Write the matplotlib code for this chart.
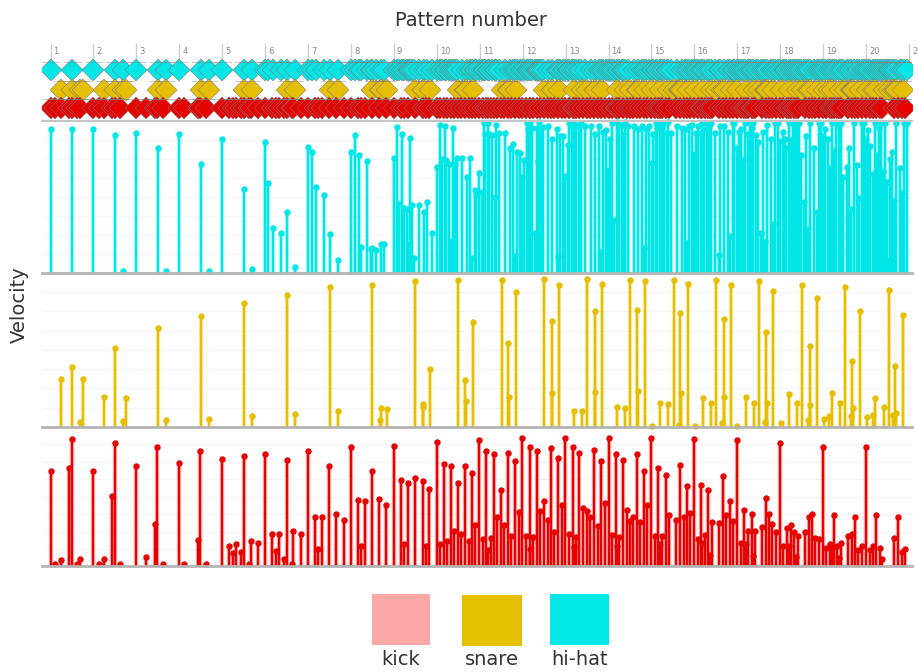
import matplotlib
matplotlib.use("Agg")
import matplotlib.pyplot as plt
from matplotlib.patches import Rectangle
import numpy as np

plt.rcParams['font.family'] = ['DejaVu Sans']

# ---------------- data (positions in 16th-note steps from pattern 1, velocities 0-127) ----------------
patterns = list(range(1, 22))
instruments = ["kick", "snare", "hi-hat"]

hh_step = [0, 8, 16, 24, 27, 32, 40, 43, 48, 56, 59, 64, 72, 75, 80, 81, 83, 86, 88, 91, 96, 97.4, 99, 102, 104, 107,
           112, 113.5, 115, 115.7, 118, 119.5, 120, 121.4, 123, 124.4,
           128, 129.3, 130, 131, 131.8, 132.8, 133.5, 134, 134.7, 135.5, 137.3, 139.1, 140.3, 142.2, 144.1, 145.3,
           146, 147.1, 147.4, 148.6, 149.4, 150.1, 150.7, 151.4, 153.4, 155.1, 156.4, 157.1, 158.1, 158.6, 159.8,
           160.9, 161.4, 162.1, 163.2, 163.6, 164.6, 165.5, 166.2, 167.3, 169.3, 171.1, 172.3, 173, 173.9, 175,
           175.9, 176.6, 177.5, 178.1, 178.8, 179.6, 180.5, 181.2, 181.7, 182, 182.9, 183.7, 185.3, 187.1, 188.6,
           189.2, 189.9, 191.1, 191.9, 192.7, 193.4, 194.2, 195.2, 195.9, 196.9, 197.9, 199.3, 201.4, 203.1, 204.4,
           205.2, 206.1, 207, 207.8, 208.7, 209.4, 210.1, 211.1, 211.9, 212.9, 213.5, 214.2, 215.2, 217.3, 219.1,
           220.4, 221.2, 222, 223.2, 224.1, 224.7, 225.6, 226.2, 227, 227.8, 228.8, 229.7, 230.3, 231.4, 233.4,
           235.2, 236.5, 237.4, 238.1, 239.1, 240, 240.7, 241.5, 242.4, 243, 243.7, 244.6, 245.3, 246.1, 247.5,
           249.1, 249.6, 251.2, 252.6, 253.3, 254.2, 254.9, 255.8, 256.5, 257.3, 258.1, 259, 259.9, 260.7, 261.5,
           262, 263, 263.7, 264.7, 265.5, 266.2, 267.1, 268.4, 269.2, 269.9, 271.1, 271.9, 272.9, 273.7, 274.2,
           275.2, 275.9, 276.6, 277.5, 278.1, 278.9, 279.6, 280.9, 281.6, 282.4, 283.2, 284.5, 285.6, 286.3, 287.2,
           288.1, 288.8, 289.7, 290.6, 291.4, 292.2, 292.9, 293.8, 294.8, 295.5, 296.9, 297.5, 298.3, 299.4, 300.5,
           301.4, 302.5, 303.4, 304.1, 304.7, 305.5, 306.5, 307.3, 308.2, 308.9, 309.7, 310.4, 311.2, 311.9, 312.4,
           312.9, 313.7, 314.4, 315.2, 316.7, 317.4, 318.1, 319.1]
hh_vel = [121, 121, 121, 116, 2, 118, 105, 2, 117, 92, 2, 113, 71, 3, 110, 76, 38, 34, 51, 5, 106, 102, 72, 66, 33, 11,
          102, 116, 99, 22, 94, 20, 21, 19, 24, 24,
          97, 123, 58, 117, 55, 54, 24, 114, 57, 13, 57, 51, 60, 34, 89, 125,
          96, 124, 95, 92, 27, 122, 92, 97, 97, 81, 97, 13, 70, 66, 84,
          68, 126, 117, 126, 117, 116, 64, 125, 118, 118, 105, 109, 14, 102, 101,
          81, 95, 126, 121, 126, 122, 34, 122, 94, 127, 122, 123, 124, 113, 121,
          14, 115, 115, 82, 108, 126, 124, 126, 124, 125, 126, 124, 124, 117, 124,
          18, 119, 120, 87, 113, 126, 45, 127, 125, 125, 116, 127, 124, 124, 121,
          124, 21, 121, 124, 93, 117, 126, 122, 126, 122, 126, 118, 127, 118, 124,
          122, 121, 25, 124, 125, 100, 118, 124, 118, 126, 121, 126, 124, 126, 118,
          15, 124, 124, 119, 31, 126, 126, 105, 119, 121, 95, 126, 117, 126, 122,
          126, 116, 110, 34, 119, 26, 125, 113, 41, 126, 126, 111, 119, 113, 105,
          126, 112, 126, 121, 125, 126, 99, 60, 115, 37, 126, 105, 51, 126, 126,
          115, 121, 113, 88, 126, 103, 126, 124, 126, 81, 89, 105, 54, 126, 91,
          63, 126, 126, 113, 120, 107, 83, 126, 99, 122, 126, 86, 126, 77, 11,
          96, 102, 61, 126, 88, 67, 126, 126]

sn_step = [4, 8, 11, 12, 20, 24, 27, 28, 40, 43, 56, 59, 72, 75, 88, 91, 104, 107, 120, 122.7, 123, 125.3, 136,
           138.7, 139, 141.4, 152, 154.5, 155, 157.4,
           168.3, 170.6, 171, 173.5, 183.9, 186.8, 187, 189.5, 195, 198.1, 200, 202.8, 203, 205.4, 211.1, 214.1,
           216.1, 218.7, 219, 221.5, 224.2, 227.2, 230.3, 232.3, 234.1, 234.6, 234.9, 237.6, 240.3, 243.1, 246.1,
           248, 250.2, 250.9, 251.1, 253.5, 256, 259.1, 262.1, 264.1, 266.2, 266.8, 267, 269.4, 272.2, 275.2,
           278.2, 280.2, 282.3, 283, 283.2, 285.6, 288.3, 290.2, 291.3, 294.3, 296.2, 298.3, 298.8, 299, 301.7,
           304.3, 306.5, 307.4, 310.5, 312.5, 314.2, 314.9, 315.1, 317.8]
sn_vel = [40, 50, 4, 40, 25, 66, 5, 24, 82, 6, 92, 7, 103, 9, 110, 11, 116, 13, 118, 6, 16, 15, 121,
          17, 19, 48, 122, 39, 22, 87,
          122, 70, 25, 112, 123, 88, 28, 118, 13, 13, 123, 96, 29, 119, 17, 16,
          122, 97, 30, 121, 1, 20, 19, 122, 2, 95, 28, 119, 1, 24, 20,
          122, 3, 90, 25, 118, 1, 25, 20, 121, 4, 79, 20, 113, 3, 27,
          20, 118, 6, 67, 18, 107, 7, 9, 28, 20, 116, 9, 55, 16, 96,
          8, 10, 24, 17, 114, 10, 51, 12, 93]

kk_step = [0, 1.8, 3.9, 6.9, 8, 9.9, 10.9, 16, 18, 19.9, 22.9, 24, 25.9, 31.8, 35.7, 38.8, 39.8, 41.8, 47.9, 49.8,
           55, 55.8, 57.8, 63.9, 66.6, 67.9, 69.1, 71, 72, 74, 74.7, 77.2, 80, 82.6, 83.9, 85.2, 86.9, 88, 90,
           90.5, 93.2, 96, 98.6, 99.7, 101.3, 103.8, 106.5, 109.3, 111.9, 114.6, 115.8, 117.3, 119.8, 122.6,
           125.2, 127.9, 130.6, 131.9, 133.2, 136, 138.9, 140, 141.2, 143.9, 145.2, 146.5, 147.9, 149.2, 150.4,
           151.9, 153.1, 154.4, 155.9, 157.1, 158.3, 159.6,
           161.2, 162.5, 163.2, 164.1, 165.2, 166.5, 168, 169.2, 170.4, 171.7, 173.3, 174.5, 175.8, 177.3, 178.6,
           178.8, 179.9, 181.4, 182.6, 183.9, 185.3, 186.6, 187.8, 189.3, 190.6, 191.9, 193.3, 194.7, 195.3,
           195.9, 197.1, 198.6, 199.9, 201.1, 202.6, 203.9, 205.2, 206.7, 208, 209.2, 210.7, 211.2, 211.9, 213.2,
           214.7, 215.9, 217.1, 218.5, 219.9, 221.1, 222.4, 224, 225.2, 226.6, 227.2, 227.9, 229.3, 230.6, 233.3,
           234.5, 236, 237.3, 238.5, 240, 241.2, 242.5, 243, 243.9, 245.2, 245.8, 246.5, 249.3, 250.6, 251.8,
           253.2, 254.5, 255.8, 257.3, 258.5, 259.1, 259.9, 261.4, 262, 262.6, 265.2, 266.6, 267.8, 269.1, 270.6,
           271.8, 273, 274.5, 275.2, 275.9, 277.1, 277.8, 278.6, 281.2, 282.6, 283.9, 285.1, 286.6, 287.8, 289.2,
           290.4, 291.4, 291.9, 293.2, 293.9, 294.5, 297.2, 298.6, 299.9, 301.1, 302.4, 304, 305.3, 306.6, 307.8,
           309.2, 309.9, 314.4, 315.9, 317.3, 318.5]
kk_vel = [88, 2, 6, 90, 117, 2, 7, 88, 2, 7, 65, 113, 2, 92, 9, 39, 110, 2, 95, 2,
          24, 106, 2, 99, 19, 12, 21, 13, 101, 2, 23, 22, 103, 30, 14, 30, 7, 98, 2,
          33, 30, 106, 45, 16, 45, 92, 48, 43, 110, 61, 19, 60, 88, 62,
          56, 111, 79, 21, 77, 81, 78, 19, 71, 114, 21, 94, 23, 92, 33,
          77, 30, 92, 23, 86, 38, 116,
          25, 106, 15, 26, 103, 45, 70, 38, 104, 28, 97, 50, 118, 28, 110,
          16, 27, 106, 51, 60, 43, 109, 32, 100, 56, 118, 30, 110, 18,
          27, 104, 54, 51, 45, 107, 37, 97, 58, 118, 29, 103, 19, 27, 98,
          52, 42, 45, 103, 41, 88, 56, 118, 28, 90, 21, 28, 84, 47, 43,
          93, 45, 74, 49, 117, 25, 75, 22, 29, 70, 11, 41, 40, 83, 47,
          60, 42, 116, 22, 52, 21, 33, 48, 10, 33, 36, 63, 48, 39, 32,
          113, 19, 35, 19, 38, 32, 9, 28, 32, 45, 48, 26, 25, 110, 17,
          21, 16, 47, 19, 8, 22, 28, 30, 45, 15, 19, 110, 15, 19, 47,
          17, 7, 26, 45, 13, 16]

# ---------------- styling ----------------
COL = {"hi-hat": "#00e5e5", "snare": "#e5be00", "kick": "#e60000"}
LEGEND_COL = {"kick": "#ffa8a8", "snare": "#e5be00", "hi-hat": "#00e8e8"}
STEPS_PER_PATTERN = 16
XLIM = (0.802, 21.07)


def to_pattern(steps):
    return 1 + np.asarray(steps, dtype=float) / STEPS_PER_PATTERN


fig = plt.figure(figsize=(9.18, 6.72), dpi=100)
L, W = 0.0458, 0.9477
ax_top = fig.add_axes([L, 0.82, W, 0.1146])
ax_hh = fig.add_axes([L, 0.5938, W, 0.2262])
ax_sn = fig.add_axes([L, 0.3646, W, 0.2292])
ax_kk = fig.add_axes([L, 0.157, W, 0.2076])

for ax in (ax_top, ax_hh, ax_sn, ax_kk):
    ax.set_xlim(*XLIM)
    ax.set_xticks([])
    ax.set_yticks([])
    for s in ax.spines.values():
        s.set_visible(False)
    ax.patch.set_alpha(0)

# ---- top: onset diamonds ----
ax_top.set_ylim(0, 1)
for p in patterns:
    ax_top.plot([p, p], [0.77, 1.0], color="#cfcfcf", lw=1.0, zorder=1, clip_on=False)
    ax_top.text(p + 0.07, 0.9, str(p), fontsize=6, color="#888888", va="center", ha="left", clip_on=False)

rows = [("hi-hat", hh_step, 0.662), ("snare", sn_step, 0.403), ("kick", kk_step, 0.169)]
for name, steps, yr in rows:
    xs = to_pattern(steps)
    for x in xs:
        ax_top.plot([x], [yr], marker="D", ms=11.3, mfc=COL[name], mec="#7a7a7a", mew=0.35,
                    ls="none", zorder=3)
        ax_top.plot([x - 0.2, x + 0.2], [yr + 0.11, yr + 0.11], color="#808080", lw=0.5,
                    alpha=0.6, zorder=4)

# ---- velocity stem panels ----
panels = [(ax_hh, "hi-hat", hh_step, hh_vel), (ax_sn, "snare", sn_step, sn_vel), (ax_kk, "kick", kk_step, kk_vel)]
for ax, name, steps, vel in panels:
    ax.set_ylim(0, 128)
    for g in range(16, 128, 16):
        ax.axhline(g, color="#f5f5f5", lw=0.8, zorder=0)
    xs = to_pattern(steps)
    c = COL[name]
    ax.vlines(xs, 0, vel, colors=c, lw=3.2, alpha=0.3, zorder=2)
    ax.vlines(xs, 0, vel, colors=c, lw=1.6, zorder=3)
    ax.plot(xs, vel, "o", ms=3.6, color=c, zorder=4, clip_on=False)
    ax.axhline(0, color="#b4b4b4", lw=2, zorder=5, clip_on=False)

ax_hh.axhline(128, color="#c4c4c4", lw=1.5, zorder=5, clip_on=False)

# ---- texts ----
fig.text(0.513, 0.970, "Pattern number", ha="center", va="center", fontsize=14, color="#333333")
fig.text(0.021, 0.546, "Velocity", ha="center", va="center", rotation=90, fontsize=14, color="#333333")

# ---- legend ----
leg = [("kick", 0.4052, 0.0632, 0.0402), ("snare", 0.5033, 0.0654, 0.0387), ("hi-hat", 0.5991, 0.0643, 0.0402)]
for name, x0, w, y0 in leg:
    fig.add_artist(Rectangle((x0, y0), w, 0.0759, transform=fig.transFigure,
                             facecolor=LEGEND_COL[name], edgecolor="none"))
    fig.text(x0 + w / 2, 0.004, name, ha="center", va="bottom", fontsize=14, color="#333333")

fig.savefig("out.png", dpi=100)
